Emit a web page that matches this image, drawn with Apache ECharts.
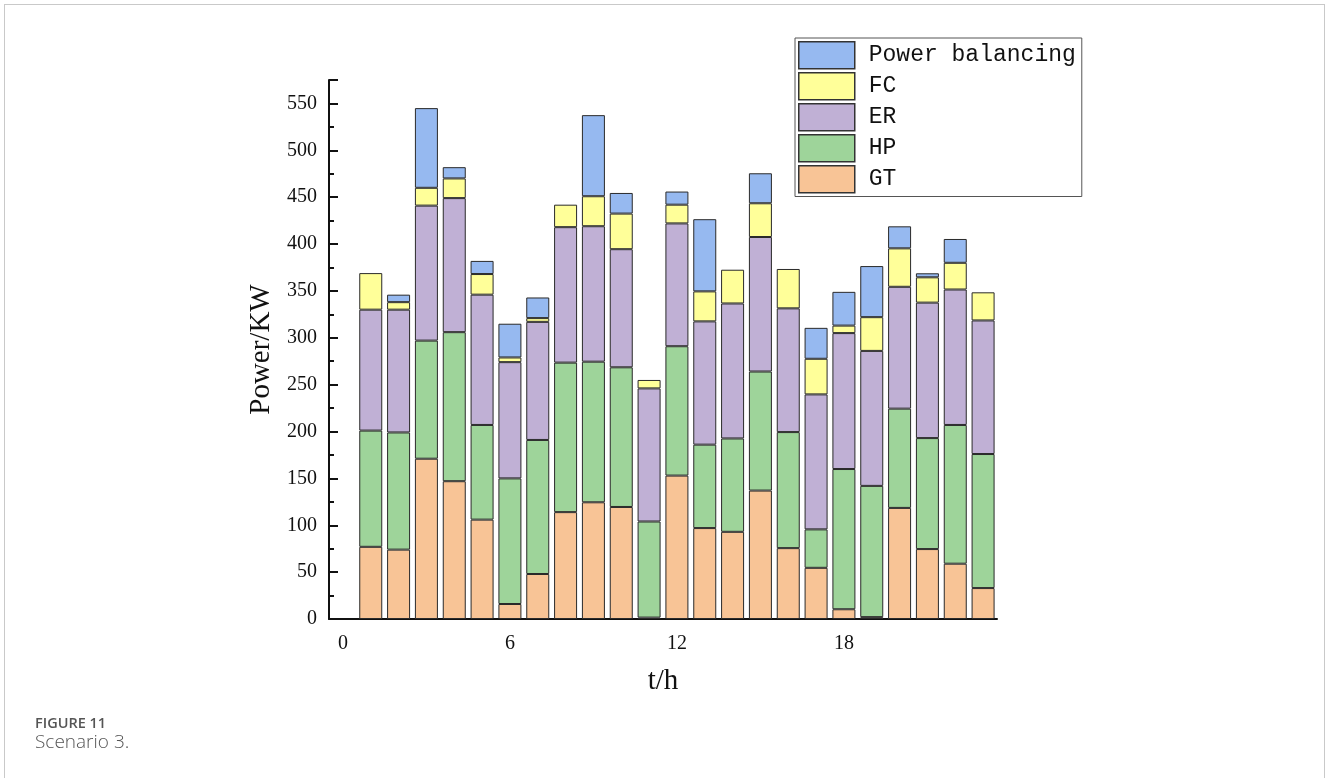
<!DOCTYPE html>
<html>
<head>
<meta charset="utf-8">
<script src="https://cdn.jsdelivr.net/npm/echarts@6/dist/echarts.min.js"></script>
<style>
html,body{margin:0;padding:0;background:#fff;}
#frame{position:absolute;left:4px;top:4px;width:1321px;height:820px;border:1px solid #c9c9c9;border-bottom:none;box-sizing:border-box;}
#chart{position:absolute;left:0;top:0;width:1328px;height:778px;}
</style>
</head>
<body>
<div id="frame"></div>
<div id="chart"></div>
<script>
// hours 1..23
var hours = [1,2,3,4,5,6,7,8,9,10,11,12,13,14,15,16,17,18,19,20,21,22,23];
var xTickLabels = ['0','6','12','18'];
var gt = [77, 74, 171, 147, 106, 16, 48, 114, 124.5, 119.5, 1.5, 153, 97, 93, 137, 75.6, 54.6, 10.4, 2, 118.5, 74.6, 59, 33];
var hp = [124, 125, 126, 159, 101, 134, 143, 159.5, 150, 149, 102.5, 138, 89, 99.6, 127, 123.8, 41, 149.6, 140, 105.9, 118.4, 148, 143];
var er = [129, 131, 144, 143, 139, 124, 126, 144.5, 144.5, 126, 142, 131, 131.5, 144, 143.5, 132, 144, 145, 144, 130, 144.5, 144.5, 142.5];
var fc = [39, 8, 19, 21, 22, 5, 4, 24, 32, 38, 9, 20, 32, 36, 36, 42, 38, 8, 36, 41, 27, 28.5, 30];
var pb = [0, 8, 85, 12, 14, 36, 22, 0, 86.5, 22, 0, 14, 77, 0, 32, 0, 33, 36, 54.5, 23.5, 4.3, 25.4, 0];

var categories = ['0'].concat(hours.map(String));
function pad(arr){ return ['-'].concat(arr.map(function(v){ return v === 0 ? '-' : v; })); }

var colors = {
  'GT': '#F8C496',
  'HP': '#9ED49A',
  'ER': '#C0B0D5',
  'FC': '#FFFF99',
  'Power balancing': '#96B9F0'
};
function bar(name, arr){
  return {
    name: name, type: 'bar', stack: 'total', xAxisIndex: 0,
    barWidth: 23,
    data: pad(arr),
    itemStyle: { color: colors[name], borderColor: '#2a2a2a', borderWidth: 1 },
    emphasis: { disabled: true }
  };
}

var chart = echarts.init(document.getElementById('chart'), null, {renderer: 'canvas'});
var serif = '"Liberation Serif", "DejaVu Serif", serif';
chart.setOption({
  animation: false,
  backgroundColor: 'transparent',
  grid: { left: 329, top: 80, width: 668, height: 539, containLabel: false },
  legend: {
    orient: 'vertical',
    left: 795, top: 38,
    data: ['Power balancing', 'FC', 'ER', 'HP', 'GT'],
    icon: 'rect',
    itemWidth: 56, itemHeight: 27, itemGap: 2.5,
    padding: [3, 6, 3, 3],
    borderColor: '#555', borderWidth: 1,
    backgroundColor: '#fff',
    itemStyle: { borderColor: '#333', borderWidth: 1.5 },
    textStyle: { fontFamily: '"Liberation Mono", "DejaVu Sans Mono", monospace', fontSize: 23, lineHeight: 27, color: '#111', padding: [0, 0, 0, 9] }
  },
  xAxis: [
    {
      type: 'category', data: categories, position: 'bottom', boundaryGap: true,
      name: 't/h', nameLocation: 'middle', nameGap: 48,
      nameTextStyle: { fontFamily: serif, fontSize: 29, color: '#111' },
      axisLine: { lineStyle: { color: '#111', width: 2 } },
      axisTick: { inside: true, length: 10, alignWithLabel: true, lineStyle: { color: '#111', width: 2 },
        interval: function(i){ return i % 6 === 0; } },
      axisLabel: { interval: function(i){ return xTickLabels.indexOf(categories[i]) >= 0; },
        fontFamily: serif, fontSize: 20, color: '#111', margin: 15 },
      splitLine: { show: false }
    },
    {
      type: 'category', data: categories, position: 'bottom', boundaryGap: true,
      axisLine: { show: false },
      axisTick: { inside: true, length: 5, alignWithLabel: true, lineStyle: { color: '#111', width: 2 },
        interval: function(i){ return i % 3 === 0; } },
      axisLabel: { show: false },
      splitLine: { show: false }
    }
  ],
  yAxis: {
    type: 'value', min: 0, max: 575, interval: 50,
    name: 'Power/KW', nameLocation: 'middle', nameGap: 52,
    nameTextStyle: { fontFamily: serif, fontSize: 29, color: '#111' },
    axisLine: { show: true, lineStyle: { color: '#111', width: 2 } },
    axisTick: { show: true, inside: true, length: 9, lineStyle: { color: '#111', width: 2 } },
    minorTick: { show: true, splitNumber: 2, length: 5, lineStyle: { color: '#111', width: 2 } },
    axisLabel: { fontFamily: serif, fontSize: 20, color: '#111', margin: 12, showMaxLabel: false },
    splitLine: { show: false }
  },
  graphic: [
    { type: 'text', left: 35, top: 716, style: { text: 'FIGURE 11', fontFamily: '"Open Sans", "Noto Sans", sans-serif', fontSize: 14.5, fontWeight: 600, fill: '#555' } },
    { type: 'text', left: 35, top: 733, style: { text: 'Scenario 3.', fontFamily: '"Open Sans", "Noto Sans", sans-serif', fontSize: 19, fontWeight: 300, fill: '#555' } }
  ],
  series: [
    bar('GT', gt),
    bar('HP', hp),
    bar('ER', er),
    bar('FC', fc),
    bar('Power balancing', pb)
  ]
});
</script>
</body>
</html>
